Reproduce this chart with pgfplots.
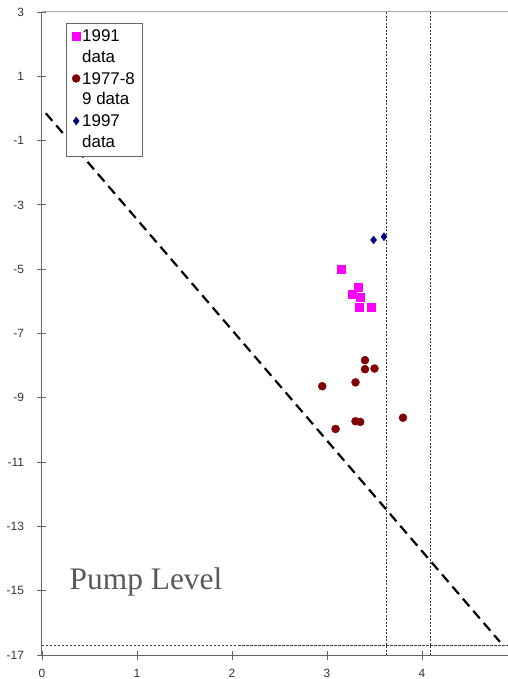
\documentclass[border=0pt]{standalone}
\usepackage{pgfplots}
\pgfplotsset{compat=1.18}
\usepackage{fontspec}
\setmainfont{Liberation Sans}
\newfontfamily\seriffont{Liberation Serif}
\definecolor{magM}{RGB}{255,0,255}
\definecolor{redM}{RGB}{128,0,0}
\definecolor{navyM}{RGB}{0,0,128}
\newcommand\lent[2]{\begin{tabular}[t]{@{}l@{\hspace{2bp}}}\rule{0pt}{16bp}#1\\#2\end{tabular}}
\begin{document}
\begin{tikzpicture}
\begin{axis}[
  at={(0,0)}, anchor=south west,
  scale only axis, width=475bp, height=643bp,
  xmin=0, xmax=5, ymin=-17, ymax=3,
  clip=false,
  axis x line*=bottom, axis y line*=left,
  axis line style={-, draw=black!60, line width=1bp},
  xtick={0,1,2,3,4}, xticklabels={0,1,2,3,4},
  ytick={-17,-15,-13,-11,-9,-7,-5,-3,-1,1,3},
  yticklabels={-17,-15,-13,-11,-9,-7,-5,-3,-1,1,3},
  tick align=center, major tick length=9bp,
  tick style={black!60, line width=0.8bp},
  ticklabel style={font=\fontsize{12}{14}\selectfont, text=black!80},
  yticklabel style={xshift=-10bp},
  xticklabel style={yshift=-6bp},
  legend style={at={(0.0505,0.983)}, anchor=north west, draw=black!60,
    font=\fontsize{17}{20.5}\selectfont, inner xsep=3bp, inner ysep=2.5bp,
    row sep=0bp, nodes={text depth={}, inner ysep=0bp},
    /tikz/every even column/.append style={column sep=8bp}},
  legend cell align=left,
  legend image code/.code={\path[draw=none,fill=none] (0bp,11bp) -- (1bp,11bp); \draw[#1] plot coordinates {(7bp,11bp)};},
]
\addplot[black, line width=2.2bp, dash pattern=on 10bp off 6bp, forget plot] coordinates {(0.04,-0.15) (4.82,-16.59)};
\addplot[black!80, line width=1.1bp, dash pattern=on 2bp off 1.5bp, forget plot] coordinates {(3.63,-17) (3.63,3)};
\addplot[black!80, line width=1.1bp, dash pattern=on 2bp off 1.5bp, forget plot] coordinates {(4.09,-17) (4.09,3)};
\addplot[black!75, line width=1.2bp, dash pattern=on 2.5bp off 1.5bp, forget plot] coordinates {(0,-16.71) (5,-16.71)};
\addplot[only marks, mark=square*, mark size=4bp, color=magM] coordinates {
(3.15,-5.00) (3.33,-5.55) (3.26,-5.79) (3.35,-5.86) (3.34,-6.19) (3.46,-6.17)};
\addlegendentry{{\lent{1991}{data}}}
\addplot[only marks, mark=*, mark size=4bp, color=redM] coordinates {
(3.40,-7.83) (3.40,-8.11) (3.50,-8.09) (3.30,-8.52) (2.95,-8.64) (3.30,-9.73) (3.35,-9.75) (3.80,-9.62) (3.09,-9.97)};
\addlegendentry{{\lent{1977-8}{9 data}}}
\addplot[only marks, mark=diamond*, mark size=4bp, color=navyM] coordinates {
(3.49,-4.09) (3.60,-3.99)};
\addlegendentry{{\lent{1997}{data}}}
\draw[black!35, line width=1bp] (rel axis cs:0,1) -- (rel axis cs:1,1);
\node[anchor=base west, inner sep=0pt, text=black!65, font=\seriffont\fontsize{31.5}{36}\selectfont] at (axis cs:0.29,-14.95) {Pump Level};
\end{axis}
\pgfresetboundingbox
\useasboundingbox (-42bp,-24bp) rectangle (466bp,655bp);
\end{tikzpicture}
\end{document}
